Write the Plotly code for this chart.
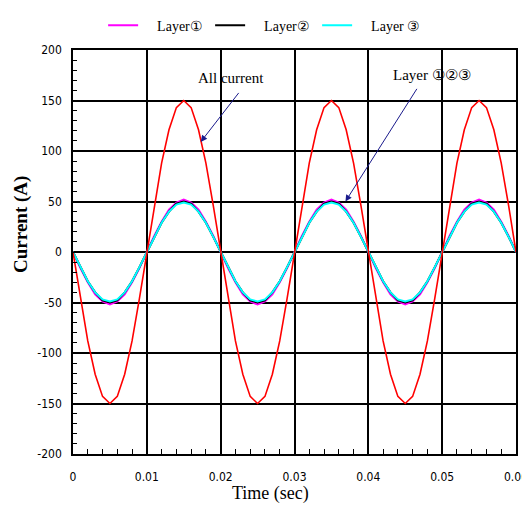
import plotly.graph_objects as go

# time axis (s)
time = [round(i * 0.001, 3) for i in range(61)]

all_current = [0, -46, -88, -121, -143, -150, -143, -121, -88, -46,
               0, 46, 88, 121, 143, 150, 143, 121, 88, 46,
               0, -46, -88, -121, -143, -150, -143, -121, -88, -46,
               0, 46, 88, 121, 143, 150, 143, 121, 88, 46,
               0, -46, -88, -121, -143, -150, -143, -121, -88, -46,
               0, 46, 88, 121, 143, 150, 143, 121, 88, 46, 0]

layer1 = [0, -16, -30, -42, -49, -52, -49, -42, -30, -16,
          0, 16, 30, 42, 49, 52, 49, 42, 30, 16,
          0, -16, -30, -42, -49, -52, -49, -42, -30, -16,
          0, 16, 30, 42, 49, 52, 49, 42, 30, 16,
          0, -16, -30, -42, -49, -52, -49, -42, -30, -16,
          0, 16, 30, 42, 49, 52, 49, 42, 30, 16, 0]

layer2 = [0, -15, -29, -40, -48, -50, -48, -40, -29, -15,
          0, 15, 29, 40, 48, 50, 48, 40, 29, 15,
          0, -15, -29, -40, -48, -50, -48, -40, -29, -15,
          0, 15, 29, 40, 48, 50, 48, 40, 29, 15,
          0, -15, -29, -40, -48, -50, -48, -40, -29, -15,
          0, 15, 29, 40, 48, 50, 48, 40, 29, 15, 0]

layer3 = [0, -15, -29, -40, -47, -49, -47, -40, -29, -15,
          0, 15, 29, 40, 47, 49, 47, 40, 29, 15,
          0, -15, -29, -40, -47, -49, -47, -40, -29, -15,
          0, 15, 29, 40, 47, 49, 47, 40, 29, 15,
          0, -15, -29, -40, -47, -49, -47, -40, -29, -15,
          0, 15, 29, 40, 47, 49, 47, 40, 29, 15, 0]

legend_names = ["Layer\u2460", "Layer\u2461", "Layer \u2462"]
x_ticks = [0, 0.01, 0.02, 0.03, 0.04, 0.05, 0.06]
x_tick_labels = ["0", "0.01", "0.02", "0.03", "0.04", "0.05", "0.06"]
y_ticks = [-200, -150, -100, -50, 0, 50, 100, 150, 200]
y_tick_labels = ["-200", "-150", "-100", "-50", "0", "50", "100", "150", "200"]

serif = "Liberation Serif, Times New Roman, DejaVu Serif, serif"
narrow = "Liberation Sans Narrow, Arial Narrow, DejaVu Sans Condensed, sans-serif"
pad = "\u00a0" * 4

fig = go.Figure()
fig.add_trace(go.Scatter(x=time, y=layer1, mode="lines", name=pad + legend_names[0],
                         line=dict(color="#ff00ff", width=2)))
fig.add_trace(go.Scatter(x=time, y=layer2, mode="lines", name=pad + legend_names[1],
                         line=dict(color="#000000", width=2)))
fig.add_trace(go.Scatter(x=time, y=layer3, mode="lines", name=pad + legend_names[2],
                         line=dict(color="#00ffff", width=2)))
fig.add_trace(go.Scatter(x=time, y=all_current, mode="lines", name="All current",
                         showlegend=False, line=dict(color="#ff0000", width=1.6)))

axis_common = dict(showgrid=True, gridcolor="black", gridwidth=1.5,
                   showline=True, linecolor="black", linewidth=1.5, mirror=True,
                   ticks="inside", ticklen=6, tickcolor="black", zeroline=False,
                   automargin=False, ticklabeloverflow="allow",
                   tickfont=dict(family=narrow, size=12, color="black"))

fig.update_xaxes(range=[0, 0.06], tickvals=x_ticks, ticktext=x_tick_labels,
                 minor=dict(dtick=0.002, ticks="inside", ticklen=5, tickcolor="black", showgrid=False),
                 ticklabelstandoff=11, **axis_common)
fig.update_yaxes(range=[-200, 200], tickvals=y_ticks, ticktext=y_tick_labels,
                 minor=dict(dtick=10, ticks="inside", ticklen=4, tickcolor="black", showgrid=False),
                 ticklabelstandoff=7, **axis_common)

fig.update_layout(
    width=522, height=505,
    margin=dict(l=65, r=14, t=42, b=59, autoexpand=False),
    plot_bgcolor="white", paper_bgcolor="white",
    showlegend=True,
    legend=dict(orientation="h", x=0.068, y=1.06, xanchor="left", yanchor="middle",
                font=dict(family=serif, size=14, color="black"),
                itemwidth=30, entrywidth=62, entrywidthmode="pixels",
                bgcolor="rgba(0,0,0,0)", traceorder="normal"),
    annotations=[
        dict(text="Time (sec)", x=0.445, y=-0.098, xref="paper", yref="paper",
             showarrow=False, font=dict(family=serif, size=18, color="black"),
             xanchor="center", yanchor="middle"),
        dict(text="<b>Current (A)</b>", x=0, y=0.567, xref="paper", yref="paper",
             xshift=-52, showarrow=False, textangle=-90,
             font=dict(family=serif, size=19, color="black"),
             xanchor="center", yanchor="middle"),
        dict(text="All current", x=0.0214, y=172, xref="x", yref="y", showarrow=False,
             font=dict(family=serif, size=15, color="black")),
        dict(text="", x=0.0173, y=109, ax=0.0226, ay=159, xref="x", yref="y",
             axref="x", ayref="y", showarrow=True, arrowhead=2, arrowsize=1.3,
             arrowwidth=1, arrowcolor="#1a1a8c"),
        dict(text="Layer \u2460\u2461\u2462", x=0.0486, y=175, xref="x", yref="y", showarrow=False,
             font=dict(family=serif, size=15, color="black")),
        dict(text="", x=0.0369, y=50, ax=0.0467, ay=163, xref="x", yref="y",
             axref="x", ayref="y", showarrow=True, arrowhead=2, arrowsize=1.3,
             arrowwidth=1, arrowcolor="#1a1a8c"),
    ],
)

fig.write_html("out.html")
